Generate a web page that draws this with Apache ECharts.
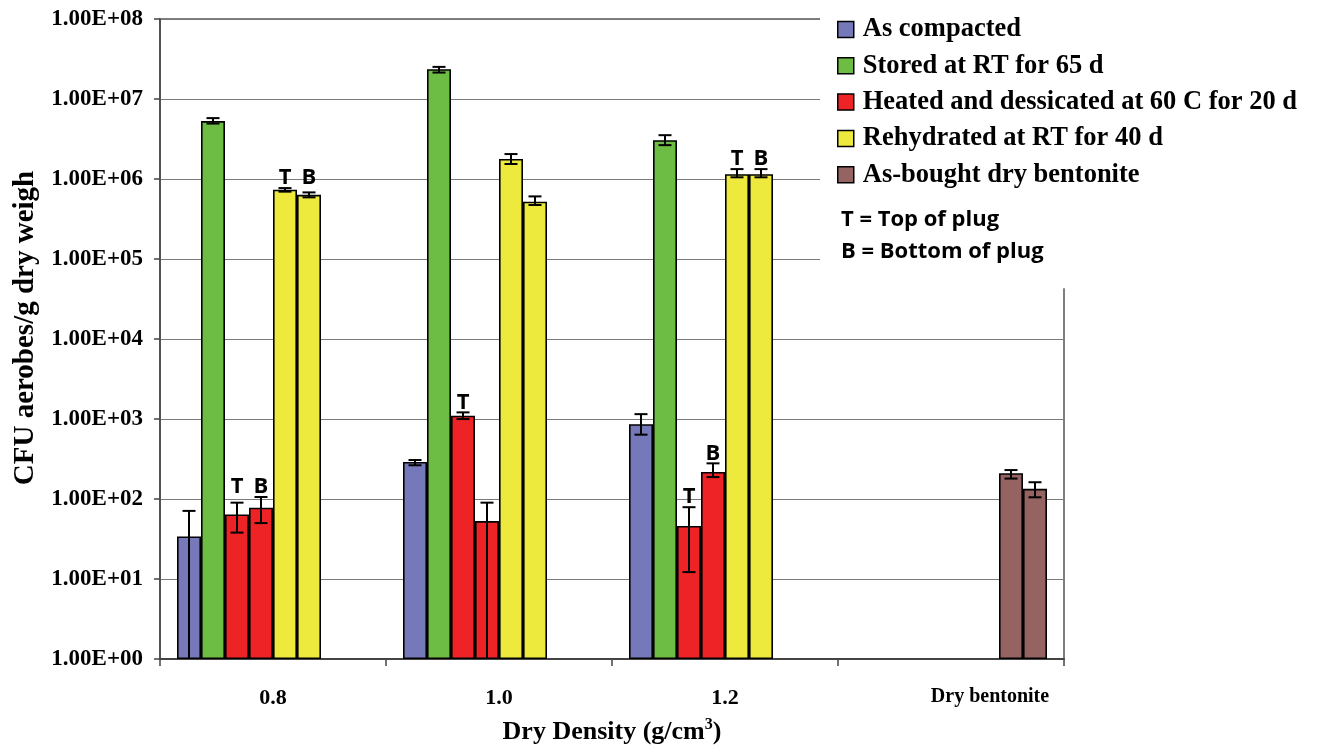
<!DOCTYPE html>
<html>
<head>
<meta charset="utf-8">
<script src="https://cdn.jsdelivr.net/npm/echarts@6/dist/echarts.min.js"></script>
<style>
  html, body { margin: 0; padding: 0; background: #fff; }
  #chart { width: 1325px; height: 751px; }
</style>
</head>
<body>
<div id="chart"></div>
<script>
// ---- data -------------------------------------------------------------
const categories = ['0.8', '1.0', '1.2', 'Dry bentonite'];
const yExponents = [0, 1, 2, 3, 4, 5, 6, 7, 8];   // tick labels 1.00E+00 … 1.00E+08

const nameAsCompacted = 'As compacted';
const nameStored = 'Stored at RT for 65 d';
const nameHeated = 'Heated and dessicated at 60 C for 20 d';
const nameRehydrated = 'Rehydrated at RT for 40 d';
const nameDry = 'As-bought dry bentonite';

// CFU aerobes / g dry weight, one entry per category
const asCompacted     = [34, 290, 860, null];
const asCompactedLo   = [0, 264, 637, null];
const asCompactedHi   = [71, 307, 1150, null];

const stored          = [5.3e6, 2.36e7, 3.06e6, null];
const storedLo        = [4.93e6, 2.14e7, 2.65e6, null];
const storedHi        = [5.77e6, 2.52e7, 3.53e6, null];

const heatedTop       = [64, 1100, 46, null];
const heatedTopLo     = [38, 998, 12.2, null];
const heatedTopHi     = [90, 1210, 79, null];
const heatedTopTag    = ['T', 'T', 'T', ''];

const heatedBottom    = [78, 53, 218, null];
const heatedBottomLo  = [50, 0, 188, null];
const heatedBottomHi  = [106, 90, 279, null];
const heatedBottomTag = ['B', '', 'B', ''];

const rehydTop        = [7.35e5, 1.78e6, 1.15e6, null];
const rehydTopLo      = [6.95e5, 1.54e6, 1.05e6, null];
const rehydTopHi      = [7.7e5, 2.05e6, 1.33e6, null];
const rehydTopTag     = ['T', '', 'T', ''];

const rehydBottom     = [6.35e5, 5.2e5, 1.15e6, null];
const rehydBottomLo   = [5.9e5, 4.73e5, 1.05e6, null];
const rehydBottomHi   = [6.8e5, 6.06e5, 1.33e6, null];
const rehydBottomTag  = ['B', '', 'B', ''];

const dryA            = [null, null, null, 210];
const dryALo          = [null, null, null, 180];
const dryAHi          = [null, null, null, 230];

const dryB            = [null, null, null, 134];
const dryBLo          = [null, null, null, 105];
const dryBHi          = [null, null, null, 162];

// ---- styling ----------------------------------------------------------
const COLORS = {
  [nameAsCompacted]: '#7679b9',
  [nameStored]: '#6dbd45',
  [nameHeated]: '#ee2325',
  [nameRehydrated]: '#eeea3d',
  [nameDry]: '#956462'
};
const BAR_W = 24;
const SERIF = '"Liberation Serif", "Times New Roman", serif';
const SANS = '"Open Sans", "Liberation Sans", sans-serif';

// one bar slot per measured set, in drawing order
const slots = [
  { name: nameAsCompacted, v: asCompacted,  lo: asCompactedLo,  hi: asCompactedHi,  tag: null, group: 'a' },
  { name: nameStored,      v: stored,       lo: storedLo,       hi: storedHi,       tag: null, group: 's' },
  { name: nameHeated,      v: heatedTop,    lo: heatedTopLo,    hi: heatedTopHi,    tag: heatedTopTag, group: 'h' },
  { name: nameHeated,      v: heatedBottom, lo: heatedBottomLo, hi: heatedBottomHi, tag: heatedBottomTag, group: 'h' },
  { name: nameRehydrated,  v: rehydTop,     lo: rehydTopLo,     hi: rehydTopHi,     tag: rehydTopTag, group: 'r' },
  { name: nameRehydrated,  v: rehydBottom,  lo: rehydBottomLo,  hi: rehydBottomHi,  tag: rehydBottomTag, group: 'r' },
  { name: nameDry,         v: dryA,         lo: dryALo,         hi: dryAHi,         tag: null, group: 'd' },
  { name: nameDry,         v: dryB,         lo: dryBLo,         hi: dryBHi,         tag: null, group: 'd' }
];
const SLOT_COUNT = slots.length;

// error-bar records: [category, slot, low, high, tagAnchor]
const errorData = [];
const errorTags = [];
slots.forEach((s, si) => {
  s.v.forEach((val, ci) => {
    if (val == null) return;
    const tag = s.tag ? s.tag[ci] : '';
    // tags of a T/B pair sit on one line when their caps are close
    let anchor = s.hi[ci];
    if (tag) {
      slots.forEach(o => {
        if (o !== s && o.group === s.group && o.tag && o.tag[ci] && o.hi[ci] != null) {
          if (Math.abs(Math.log10(o.hi[ci] / s.hi[ci])) < 0.2) anchor = Math.max(anchor, o.hi[ci]);
        }
      });
    }
    errorData.push([ci, si, s.lo[ci], s.hi[ci], anchor]);
    errorTags.push(tag);
  });
});

function renderErrorBar(params, api) {
  const cat = api.value(0);
  const slot = api.value(1);
  const lo = api.value(2);
  const hi = api.value(3);
  const anchor = api.value(4);
  const cs = params.coordSys;
  const bottom = cs.y + cs.height;
  const cx = api.coord([cat, 1])[0] + (slot - (SLOT_COUNT - 1) / 2) * BAR_W;
  const yHi = api.coord([cat, hi])[1];
  const yLo = lo > 1 ? api.coord([cat, lo])[1] : bottom;
  const capHalf = 6.5;
  const line = { stroke: '#000', lineWidth: 2 };
  const children = [
    { type: 'line', shape: { x1: cx, y1: yHi, x2: cx, y2: yLo }, style: line },
    { type: 'line', shape: { x1: cx - capHalf, y1: yHi, x2: cx + capHalf, y2: yHi }, style: line }
  ];
  if (lo > 1) {
    children.push({ type: 'line', shape: { x1: cx - capHalf, y1: yLo, x2: cx + capHalf, y2: yLo }, style: line });
  }
  const tag = errorTags[params.dataIndex];
  if (tag) {
    const yA = api.coord([cat, anchor])[1];
    children.push({
      type: 'text',
      x: cx, y: yA + 1,
      style: { text: tag, fill: '#000', font: 'bold 22px ' + SANS, align: 'center', verticalAlign: 'bottom' }
    });
  }
  return { type: 'group', children };
}

const barSeries = slots.map(s => ({
  type: 'bar',
  name: s.name,
  data: s.v.map(v => (v == null ? '-' : v)),
  barWidth: BAR_W,
  barGap: '0%',
  itemStyle: { color: COLORS[s.name], borderColor: '#000', borderWidth: 1.6 },
  emphasis: { disabled: true },
  animation: false
}));

const chart = echarts.init(document.getElementById('chart'), null, { renderer: 'canvas' });
chart.setOption({
  animation: false,
  backgroundColor: '#fff',
  grid: {
    left: 160, right: 261, top: 19, bottom: 92,
    show: true, borderColor: '#555', borderWidth: 1.5, backgroundColor: 'transparent'
  },
  legend: {
    data: [nameAsCompacted, nameStored, nameHeated, nameRehydrated, nameDry],
    orient: 'vertical',
    left: 820, top: 0,
    padding: [16, 60, 100, 17],
    backgroundColor: '#fff',
    itemWidth: 16, itemHeight: 16, itemGap: 9.3,
    icon: 'rect',
    selectedMode: false,
    itemStyle: { borderColor: '#000', borderWidth: 1.5 },
    textStyle: { fontFamily: SERIF, fontWeight: 'bold', fontSize: 26.5, color: '#000', lineHeight: 26, padding: [0, 0, 0, 4] }
  },
  graphic: {
    elements: [
      { type: 'text', left: 841, top: 209, z: 100,
        style: { text: 'T = Top of plug', font: 'bold 22px ' + SANS, fill: '#000' } },
      { type: 'text', left: 841, top: 241, z: 100,
        style: { text: 'B = Bottom of plug', font: 'bold 22px ' + SANS, fill: '#000' } }
    ]
  },
  xAxis: {
    type: 'category',
    data: categories,
    axisLine: { lineStyle: { color: '#444', width: 2 } },
    axisTick: { show: true, interval: 0, length: 7, lineStyle: { color: '#444', width: 1.5 } },
    axisLabel: {
      interval: 0,
      margin: 28,
      color: '#000',
      fontFamily: SERIF, fontWeight: 'bold', fontSize: 22,
      formatter: v => (v === 'Dry bentonite' ? '{db|' + v + '}' : v),
      rich: { db: { fontFamily: SERIF, fontWeight: 'bold', fontSize: 20, padding: [0, 0, 0, 78] } }
    },
    name: '{a|Dry Density (g/cm}{s|3}{a|)}',
    nameLocation: 'middle',
    nameGap: 58,
    nameTextStyle: {
      rich: {
        a: { fontFamily: SERIF, fontWeight: 'bold', fontSize: 26, color: '#000', lineHeight: 30 },
        s: { fontFamily: SERIF, fontWeight: 'bold', fontSize: 16, color: '#000', verticalAlign: 'top', lineHeight: 30 }
      }
    }
  },
  yAxis: {
    type: 'log',
    logBase: 10,
    min: Math.pow(10, yExponents[0]),
    max: Math.pow(10, yExponents[yExponents.length - 1]),
    interval: 1,
    axisLine: { show: true, lineStyle: { color: '#444', width: 1.5 } },
    axisTick: { show: true, length: 6, lineStyle: { color: '#444', width: 1.5 } },
    splitLine: { show: true, lineStyle: { color: '#7a7a7a', width: 1.2 } },
    axisLabel: {
      margin: 17,
      color: '#000',
      fontFamily: SERIF, fontWeight: 'bold', fontSize: 23,
      formatter: v => {
        const e = Math.round(Math.log10(v));
        return yExponents.includes(e) ? '1.00E+' + String(e).padStart(2, '0') : '';
      }
    },
    name: 'CFU aerobes/g dry weigh',
    nameLocation: 'middle',
    nameGap: 106,
    nameTextStyle: { fontFamily: SERIF, fontWeight: 'bold', fontSize: 29, color: '#000', padding: [0, 0, 0, 22] }
  },
  series: barSeries.concat([{
    type: 'custom',
    name: 'error',
    data: errorData,
    dimensions: ['cat', 'slot', 'lo', 'hi', 'anchor'],
    encode: { x: 0, y: 3 },
    renderItem: renderErrorBar,
    z: 5,
    silent: true,
    animation: false
  }])
});
</script>
</body>
</html>
